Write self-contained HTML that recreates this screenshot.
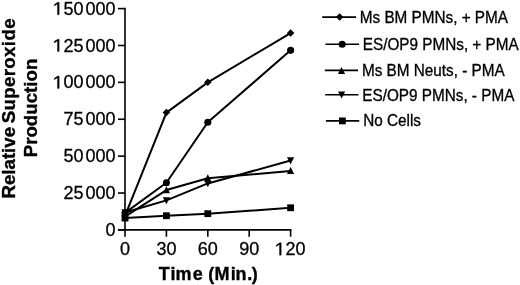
<!DOCTYPE html>
<html><head><meta charset="utf-8"><style>
html,body{margin:0;padding:0;background:#fff;}
body{width:520px;height:285px;overflow:hidden;font-family:"Liberation Sans",sans-serif;}
svg{display:block;will-change:transform;}
text{stroke:#000;stroke-width:0.3px;}
text.b{stroke-width:0.35px;}
use{stroke:#000;stroke-width:33px;}
</style></head><body>
<svg width="520" height="285" viewBox="0 0 520 285">
<defs><path id="one" d="M440 0V1215L80 985V1165L470 1409H645V0Z"/></defs>
<g stroke="#000" stroke-width="1.6" fill="none" stroke-linecap="butt">
<path d="M125.00,7.80V236.70"/>
<path d="M118.00,229.90H291.40"/>
<path d="M118.00,229.90H125.00"/>
<path d="M118.00,193.02H125.00"/>
<path d="M118.00,156.13H125.00"/>
<path d="M118.00,119.25H125.00"/>
<path d="M118.00,82.37H125.00"/>
<path d="M118.00,45.48H125.00"/>
<path d="M118.00,8.60H125.00"/>
<path d="M166.40,229.90V236.70"/>
<path d="M207.80,229.90V236.70"/>
<path d="M249.20,229.90V236.70"/>
<path d="M290.60,229.90V236.70"/>
</g>
<g stroke="#000" stroke-width="2" fill="none" stroke-linejoin="round">
<path d="M125.00,215.88L166.40,112.61L207.80,82.37L290.60,33.09"/>
<path d="M125.00,212.93L166.40,182.69L207.80,122.20L290.60,50.35"/>
<path d="M125.00,216.62L166.40,190.07L207.80,178.26L290.60,170.89"/>
<path d="M125.00,212.49L166.40,200.39L207.80,183.43L290.60,160.56"/>
<path d="M125.00,218.10L166.40,215.74L207.80,213.67L290.60,207.77"/>
</g>
<g fill="#000">
<path d="M125.00,212.13L128.75,215.88L125.00,219.63L121.25,215.88Z"/>
<path d="M166.40,108.86L170.15,112.61L166.40,116.36L162.65,112.61Z"/>
<path d="M207.80,78.62L211.55,82.37L207.80,86.12L204.05,82.37Z"/>
<path d="M290.60,29.34L294.35,33.09L290.60,36.84L286.85,33.09Z"/>
<circle cx="125.00" cy="212.93" r="3.55"/>
<circle cx="166.40" cy="182.69" r="3.55"/>
<circle cx="207.80" cy="122.20" r="3.55"/>
<circle cx="290.60" cy="50.35" r="3.55"/>
<path d="M125.00,212.72L128.60,219.82L121.40,219.82Z"/>
<path d="M166.40,186.17L170.00,193.27L162.80,193.27Z"/>
<path d="M207.80,174.36L211.40,181.46L204.20,181.46Z"/>
<path d="M290.60,166.99L294.20,174.09L287.00,174.09Z"/>
<path d="M125.00,216.39L128.60,209.29L121.40,209.29Z"/>
<path d="M166.40,204.29L170.00,197.19L162.80,197.19Z"/>
<path d="M207.80,187.33L211.40,180.23L204.20,180.23Z"/>
<path d="M290.60,164.46L294.20,157.36L287.00,157.36Z"/>
<rect x="121.60" y="214.70" width="6.80" height="6.80"/>
<rect x="163.00" y="212.34" width="6.80" height="6.80"/>
<rect x="204.40" y="210.27" width="6.80" height="6.80"/>
<rect x="287.20" y="204.37" width="6.80" height="6.80"/>
</g>
<g font-family="Liberation Sans, sans-serif" font-size="18" fill="#000">
<text x="105.49" y="236.00">0</text>
<text x="63.55" y="199.12">25<tspan dx="1.9">000</tspan></text>
<text x="63.55" y="162.23">50<tspan dx="1.9">000</tspan></text>
<text x="63.55" y="125.35">75<tspan dx="1.9">000</tspan></text>
<text x="53.54" y="88.47"> 00<tspan dx="1.9">000</tspan></text>
<use href="#one" transform="translate(53.54,88.47) scale(0.008789,-0.008789)"/>
<text x="53.54" y="51.58"> 25<tspan dx="1.9">000</tspan></text>
<use href="#one" transform="translate(53.54,51.58) scale(0.008789,-0.008789)"/>
<text x="53.54" y="14.70"> 50<tspan dx="1.9">000</tspan></text>
<use href="#one" transform="translate(53.54,14.70) scale(0.008789,-0.008789)"/>
</g>
<g font-family="Liberation Sans, sans-serif" font-size="18" fill="#000">
<text x="119.99" y="255.2">0</text>
<text x="156.39" y="255.2">30</text>
<text x="197.79" y="255.2">60</text>
<text x="239.19" y="255.2">90</text>
<text x="275.58" y="255.2"> 20</text>
<use href="#one" transform="translate(275.58,255.20) scale(0.008789,-0.008789)"/>
</g>
<text class="b" x="158.7 170.5 175.5 192.8 202.5 208.2 214.6 230.8 235.4 247.2 251.8" y="280.0" font-family="Liberation Sans, sans-serif" font-weight="bold" font-size="18">Time (Min.)</text>
<g transform="translate(0,108) rotate(-90)" font-family="Liberation Sans, sans-serif" font-weight="bold" font-size="18.7" text-anchor="middle">
<text class="b" x="-90.6" y="15.3" text-anchor="start">Relative<tspan dx="-2.0" letter-spacing="0.35"> Superoxide</tspan></text>
<text class="b" x="0" y="37.3">Production</text>
</g>
<path d="M322.20,17.10H356.10" stroke="#000" stroke-width="1.6"/>
<g fill="#000"><path d="M339.60,13.35L343.35,17.10L339.60,20.85L335.85,17.10Z"/></g>
<text transform="translate(359.80,17.30) scale(1,1.05)" y="5.26" font-family="Liberation Sans, sans-serif" font-size="15.3">Ms BM PMNs, + PMA</text>
<path d="M325.40,44.20H359.10" stroke="#000" stroke-width="1.6"/>
<g fill="#000"><circle cx="342.20" cy="44.20" r="3.55"/></g>
<text transform="translate(362.80,44.65) scale(1,1.05)" y="5.26" font-family="Liberation Sans, sans-serif" font-size="15.3">ES/OP9 PMNs, + PMA</text>
<path d="M324.80,70.40H358.00" stroke="#000" stroke-width="1.6"/>
<g fill="#000"><path d="M341.50,66.90L345.10,74.00L337.90,74.00Z"/></g>
<text transform="translate(362.00,70.45) scale(1,1.05)" y="5.26" font-family="Liberation Sans, sans-serif" font-size="15.3">Ms BM Neuts, - PMA</text>
<path d="M325.20,94.70H358.50" stroke="#000" stroke-width="1.6"/>
<g fill="#000"><path d="M341.60,98.60L345.20,91.50L338.00,91.50Z"/></g>
<text transform="translate(362.30,95.10) scale(1,1.05)" y="5.26" font-family="Liberation Sans, sans-serif" font-size="15.3">ES/OP9 PMNs, - PMA</text>
<path d="M325.90,120.90H359.30" stroke="#000" stroke-width="1.6"/>
<g fill="#000"><rect x="339.00" y="117.50" width="6.80" height="6.80"/></g>
<text transform="translate(363.20,120.90) scale(1,1.05)" y="5.26" font-family="Liberation Sans, sans-serif" font-size="15.3">No Cells</text>
</svg>
</body></html>
